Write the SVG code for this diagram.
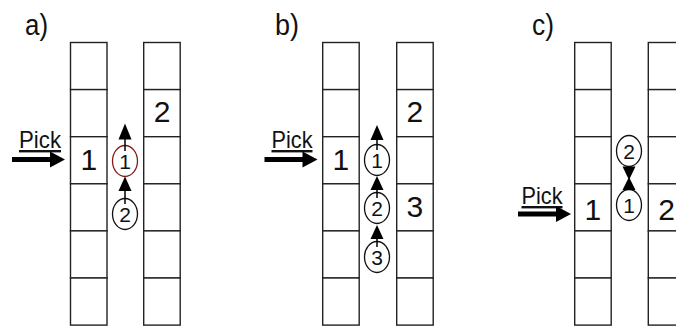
<svg xmlns="http://www.w3.org/2000/svg" width="676" height="327" viewBox="0 0 676 327">
<defs>
<style>
.cell{fill:#fff;stroke:#222;stroke-width:1.4}
.lbl{font-family:"Liberation Sans",Arial,sans-serif;font-size:29px;fill:#111}
.num{font-family:"Liberation Sans",Arial,sans-serif;font-size:30px;fill:#111;text-anchor:middle}
.pick{font-family:"Liberation Sans",Arial,sans-serif;font-size:24px;fill:#111;text-decoration:underline}
.cnum{font-family:"Liberation Sans",Arial,sans-serif;font-size:21px;fill:#111;text-anchor:middle}
.circ{fill:#fff;stroke:#111;stroke-width:1.3}
.circr{fill:#fff;stroke:#8a1a1a;stroke-width:1.3}
.thin{stroke:#000;stroke-width:1.5;fill:none}
.head{fill:#000;stroke:none}
</style>
<path id="bigarrow" class="head" d="M0,-2.5 L38,-2.5 L38,-8 L53,0 L38,8 L38,2.5 L0,2.5 z"/>
<g id="col">
<rect class="cell" x="0" y="0" width="36.5" height="47.1"/>
<rect class="cell" x="0" y="47.1" width="36.5" height="47.1"/>
<rect class="cell" x="0" y="94.2" width="36.5" height="47.1"/>
<rect class="cell" x="0" y="141.3" width="36.5" height="47.1"/>
<rect class="cell" x="0" y="188.4" width="36.5" height="47.1"/>
<rect class="cell" x="0" y="235.5" width="36.5" height="47.1"/>
</g>
</defs>

<g id="panel-a">
<text class="lbl" x="25" y="35" textLength="23" lengthAdjust="spacingAndGlyphs">a)</text>
<g id="a-left"><use href="#col" x="70.5" y="42.5"/><text class="num" x="88.75" y="170">1</text></g>
<g id="a-right"><use href="#col" x="143.7" y="42.5"/><text class="num" x="162" y="122">2</text></g>
<g id="a-pick"><text class="pick" x="19" y="148" textLength="42" lengthAdjust="spacingAndGlyphs">Pick</text></g>
<g id="a-c1"><ellipse class="circr" cx="125" cy="161" rx="12.5" ry="15.5"/><text class="cnum" x="125" y="168.5">1</text></g>
<g id="a-c2"><ellipse class="circ" cx="125" cy="214" rx="12.5" ry="15.5"/><text class="cnum" x="125" y="221.5">2</text></g>
</g>

<g id="panel-b">
<text class="lbl" x="275" y="35" textLength="24" lengthAdjust="spacingAndGlyphs">b)</text>
<g id="b-left"><use href="#col" x="322.7" y="42.5"/><text class="num" x="340.9" y="170">1</text></g>
<g id="b-right"><use href="#col" x="396.7" y="42.5"/><text class="num" x="414.9" y="122">2</text><text class="num" x="414.9" y="217">3</text></g>
<g id="b-pick"><text class="pick" x="271.5" y="148" textLength="41" lengthAdjust="spacingAndGlyphs">Pick</text></g>
<g id="b-c1"><ellipse class="circ" cx="377" cy="160" rx="12.5" ry="15.5"/><text class="cnum" x="377" y="167.5">1</text></g>
<g id="b-c2"><ellipse class="circ" cx="377" cy="208" rx="12.5" ry="15.5"/><text class="cnum" x="377" y="215.5">2</text></g>
<g id="b-c3"><ellipse class="circ" cx="377" cy="257" rx="12.5" ry="15.5"/><text class="cnum" x="377" y="264.5">3</text></g>
</g>

<g id="panel-c">
<text class="lbl" x="532" y="35" textLength="22" lengthAdjust="spacingAndGlyphs">c)</text>
<g id="c-left"><use href="#col" x="574.7" y="42.5"/><text class="num" x="592.9" y="220">1</text></g>
<g id="c-right"><use href="#col" x="648.3" y="42.5"/><text class="num" x="666.5" y="220">2</text></g>
<g id="c-pick"><text class="pick" x="521.5" y="204" textLength="41" lengthAdjust="spacingAndGlyphs">Pick</text></g>
<g id="c-c2"><ellipse class="circ" cx="629" cy="151" rx="12.5" ry="15.5"/><text class="cnum" x="629" y="158.5">2</text></g>
<g id="c-c1"><ellipse class="circ" cx="629" cy="205" rx="12.5" ry="15.5"/><text class="cnum" x="629" y="212.5">1</text></g>
</g>

<g id="connectors">
<use href="#bigarrow" x="12" y="159.5"/>
<use href="#bigarrow" x="264.5" y="159.5"/>
<use href="#bigarrow" x="518" y="214"/>

<line class="thin" x1="125" y1="151" x2="125" y2="136"/>
<path class="head" d="M118.5,139.5 L125,123.5 L131.5,139.5 z"/>
<line class="thin" x1="125" y1="204" x2="125" y2="188"/>
<path class="head" d="M118.5,191 L125,176.5 L131.5,191 z"/>

<line class="thin" x1="377" y1="150" x2="377" y2="137"/>
<path class="head" d="M370.5,140 L377,125 L383.5,140 z"/>
<line class="thin" x1="377" y1="198" x2="377" y2="187"/>
<path class="head" d="M370.5,190 L377,176 L383.5,190 z"/>
<line class="thin" x1="377" y1="247" x2="377" y2="236"/>
<path class="head" d="M370.5,239 L377,225 L383.5,239 z"/>

<path class="head" d="M622.5,166.5 L629,180 L635.5,166.5 z"/>
<path class="head" d="M622.5,190 L629,177 L635.5,190 z"/>
</g>
</svg>
